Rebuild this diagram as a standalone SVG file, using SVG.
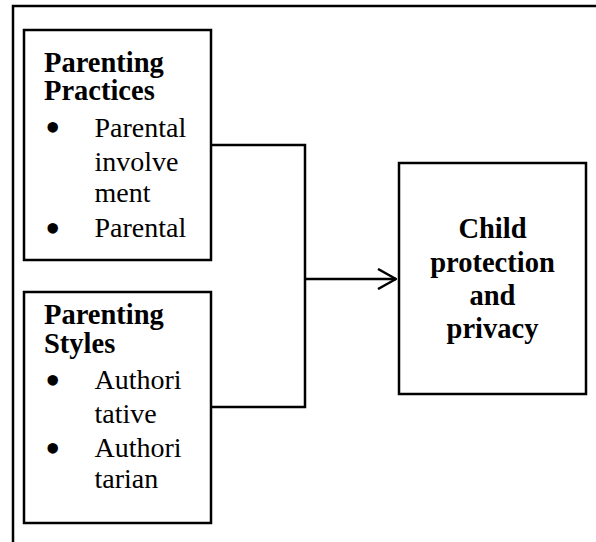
<svg xmlns="http://www.w3.org/2000/svg" width="596" height="542" viewBox="0 0 596 542">
<style>
.box{fill:#fff;stroke:#000;stroke-width:2.5}
.frame{fill:none;stroke:#000;stroke-width:2.5}
.b{font-family:"Liberation Serif","Times New Roman",serif;font-weight:bold;font-size:28.5px;fill:#000}
.r{font-family:"Liberation Serif","Times New Roman",serif;font-size:28px;fill:#000}
.bul{font-family:"Liberation Serif","Times New Roman",serif;font-size:44px;fill:#000}
.c{text-anchor:middle}
.conn{fill:none;stroke:#000;stroke-width:2.5}
</style>
<defs>
<marker id="arr" viewBox="0 0 20 22" refX="19" refY="11" markerWidth="20" markerHeight="22" markerUnits="userSpaceOnUse" orient="auto">
<path d="M1,1 L19,11 L1,21" fill="none" stroke="#000" stroke-width="2.5"/>
</marker>
</defs>
<rect width="596" height="542" fill="#fff"/>
<path class="frame" d="M13,542 L13,6 L596,6"/>
<g id="connectors">
<path class="conn" d="M211,145 L305,145 L305,407 L211,407"/>
<path class="conn" d="M305,279 L396,279" marker-end="url(#arr)"/>
</g>
<g id="practices">
<rect class="box" x="24" y="30" width="187" height="230"/>
<text class="b" x="44" y="72">Parenting</text>
<text class="b" x="44" y="100">Practices</text>
<text class="bul" x="45" y="142">•</text>
<text class="r" x="94.5" y="136.5">Parental</text>
<text class="r" x="94.5" y="171">involve</text>
<text class="r" x="94.5" y="202">ment</text>
<text class="bul" x="45" y="242.5">•</text>
<text class="r" x="94.5" y="237">Parental</text>
</g>
<g id="styles">
<rect class="box" x="24" y="292" width="187" height="231"/>
<text class="b" x="44" y="324">Parenting</text>
<text class="b" x="44" y="353">Styles</text>
<text class="bul" x="45" y="394.5">•</text>
<text class="r" x="94.5" y="389">Authori</text>
<text class="r" x="94.5" y="423">tative</text>
<text class="bul" x="45" y="462.5">•</text>
<text class="r" x="94.5" y="457">Authori</text>
<text class="r" x="94.5" y="488">tarian</text>
</g>
<g id="child">
<rect class="box" x="399" y="163" width="187" height="231"/>
<text class="b c" x="492.5" y="238">Child</text>
<text class="b c" x="492.5" y="271.5">protection</text>
<text class="b c" x="492.5" y="305">and</text>
<text class="b c" x="492.5" y="337.5">privacy</text>
</g>
</svg>
